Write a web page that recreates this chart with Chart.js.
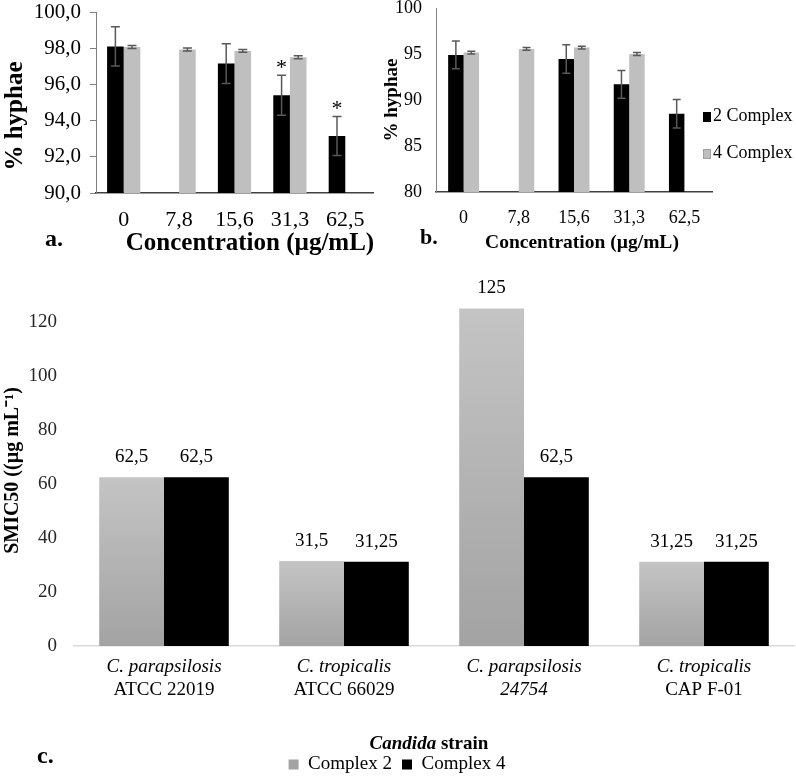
<!DOCTYPE html>
<html>
<head>
<meta charset="utf-8">
<script src="https://cdn.jsdelivr.net/npm/chart.js@4.4.1/dist/chart.umd.min.js"></script>
<style>
  html, body { margin: 0; padding: 0; background: #fff; overflow: hidden; }
  body { width: 796px; height: 778px; position: relative; font-family: "Liberation Serif", "Times New Roman", serif; color: #000; }
  .panel { position: absolute; }
  .txt { position: absolute; white-space: nowrap; line-height: 1; }
  .b { font-weight: bold; }
  .sw { display: inline-block; width: 8px; height: 10px; margin-right: 2px; vertical-align: -1px; }
</style>
</head>
<body>
<div class="panel" style="left:0;top:0;width:400px;height:235px"><canvas id="chartA"></canvas></div>
<div class="panel" style="left:380px;top:0;width:416px;height:232px"><canvas id="chartB"></canvas></div>
<div class="panel" style="left:0;top:270px;width:796px;height:514px"><canvas id="chartC"></canvas></div>

<div class="txt b" style="left:12.5px;top:116px;font-size:25px;transform:translate(-50%,-50%) rotate(-90deg)">% hyphae</div>
<div class="txt b" style="left:45px;top:226px;font-size:24px">a.</div>
<div class="txt b" style="left:250px;top:229px;font-size:25px;transform:translateX(-50%)">Concentration (µg/mL)</div>
<div class="txt b" style="left:420px;top:226px;font-size:22px">b.</div>
<div class="txt b" style="left:582px;top:232px;font-size:19.5px;transform:translateX(-50%)">Concentration (µg/mL)</div>
<div class="txt" style="left:703px;top:106px;font-size:18px"><span class="sw" style="background:#000"></span>2 Complex</div>
<div class="txt" style="left:703px;top:143px;font-size:18px"><span class="sw" style="background:#bfbfbf;border:1px solid #a0a0a0;width:6px;height:8px"></span>4 Complex</div>
<div class="txt b" style="left:37px;top:743px;font-size:24px">c.</div>
<div class="txt b" style="left:429px;top:733px;font-size:19px;transform:translateX(-50%)"><i>Candida</i> strain</div>

<script>
// panel a / b: % hyphae by concentration
const concentrations = ['0', '7,8', '15,6', '31,3', '62,5'];

const hyphaeA2 = [98.1, null, 97.15, 95.4, 93.15];
const errA2 = [1.08, null, 1.1, 1.1, 1.08];
const starA2 = [false, false, false, true, true];
const hyphaeA4 = [98.07, 97.93, 97.85, 97.5, null];
const errA4 = [0.08, 0.08, 0.08, 0.08, null];

const hyphaeB2 = [94.9, null, 94.45, 91.7, 88.5];
const errB2 = [1.5, null, 1.55, 1.5, 1.55];
const hyphaeB4 = [95.15, 95.55, 95.7, 95.0, null];
const errB4 = [0.15, 0.15, 0.15, 0.15, null];

// panel c: SMIC50 by strain
const strains = [
  ['C. parapsilosis', 'ATCC 22019'],
  ['C. tropicalis', 'ATCC 66029'],
  ['C. parapsilosis', '24754'],
  ['C. tropicalis', 'CAP F-01']
];
const italicSecondLine = [false, false, true, false];
const smicComplex2 = [62.5, 31.5, 125, 31.25];
const smicComplex4 = [62.5, 31.25, 62.5, 31.25];

const FONT = '"Liberation Serif", "Times New Roman", serif';
Chart.defaults.font.family = FONT;
Chart.defaults.color = '#000';

const comma = v => String(v).replace('.', ',');

const errorBars = {
  id: 'errorBars',
  afterDatasetsDraw(chart, args, opts) {
    const { ctx } = chart;
    const y = chart.scales.y;
    ctx.save();
    chart.data.datasets.forEach((ds, i) => {
      chart.getDatasetMeta(i).data.forEach((bar, j) => {
        const v = ds.data[j];
        const e = ds.errors ? ds.errors[j] : null;
        if (v == null || e == null) return;
        const top = y.getPixelForValue(v + e);
        const bot = y.getPixelForValue(v - e);
        const half = opts.cap / 2;
        ctx.strokeStyle = opts.color;
        ctx.lineWidth = opts.width;
        ctx.beginPath();
        ctx.moveTo(bar.x, top); ctx.lineTo(bar.x, bot);
        ctx.moveTo(bar.x - half, top); ctx.lineTo(bar.x + half, top);
        ctx.moveTo(bar.x - half, bot); ctx.lineTo(bar.x + half, bot);
        ctx.stroke();
        if (ds.stars && ds.stars[j]) {
          ctx.fillStyle = '#000';
          ctx.font = opts.starSize + 'px ' + FONT;
          ctx.textAlign = 'center';
          ctx.textBaseline = 'alphabetic';
          ctx.fillText('*', bar.x, top - 1);
        }
      });
    });
    ctx.restore();
  }
};

const barValues = {
  id: 'barValues',
  afterDatasetsDraw(chart, args, opts) {
    const { ctx } = chart;
    ctx.save();
    ctx.font = opts.size + 'px ' + FONT;
    ctx.fillStyle = opts.color;
    ctx.textAlign = 'center';
    ctx.textBaseline = 'middle';
    chart.data.datasets.forEach((ds, i) => {
      chart.getDatasetMeta(i).data.forEach((bar, j) => {
        ctx.fillText(comma(ds.data[j]), bar.x, bar.y - opts.offset);
      });
    });
    ctx.restore();
  }
};

const strainLabels = {
  id: 'strainLabels',
  afterDraw(chart, args, opts) {
    const { ctx, chartArea } = chart;
    const x = chart.scales.x;
    ctx.save();
    ctx.fillStyle = opts.color;
    ctx.textAlign = 'center';
    ctx.textBaseline = 'middle';
    chart.data.labels.forEach((lines, i) => {
      const cx = x.getPixelForValue(i);
      lines.forEach((line, k) => {
        const italic = k === 0 || italicSecondLine[i];
        ctx.font = (italic ? 'italic ' : '') + opts.size + 'px ' + FONT;
        ctx.fillText(line, cx, chartArea.bottom + opts.first + k * opts.gap);
      });
    });
    ctx.restore();
  }
};

function fixWidth(w) {
  return s => { s.width = w; s.paddingTop = 0; s.paddingBottom = 0; };
}
function fixHeight(h) {
  return s => { s.height = h; s.paddingLeft = 0; s.paddingRight = 0; };
}

// a.
new Chart(document.getElementById('chartA'), {
  type: 'bar',
  data: {
    labels: concentrations,
    datasets: [
      { label: '2 Complex', data: hyphaeA2, errors: errA2, stars: starA2, backgroundColor: '#000' },
      { label: '4 Complex', data: hyphaeA4, errors: errA4, backgroundColor: '#bfbfbf' }
    ]
  },
  options: {
    responsive: true,
    maintainAspectRatio: false,
    animation: false,
    layout: { padding: { top: 12, right: 27, left: 0, bottom: 0 } },
    datasets: { bar: { categoryPercentage: 0.6, barPercentage: 1 } },
    plugins: {
      legend: { display: false },
      tooltip: { enabled: false },
      errorBars: { cap: 9, color: '#595959', width: 1.5, starSize: 22 }
    },
    scales: {
      x: {
        grid: { display: false, drawTicks: false },
        border: { color: '#404040', width: 1.5 },
        ticks: { font: { size: 22 }, padding: 14, color: '#000' },
        afterFit: fixHeight(42)
      },
      y: {
        min: 90, max: 100,
        ticks: { stepSize: 2, font: { size: 21 }, padding: 9, color: '#000', callback: v => v.toFixed(1).replace('.', ',') },
        grid: { drawOnChartArea: false, tickLength: 6, color: '#7f7f7f' },
        border: { color: '#7f7f7f' },
        afterFit: fixWidth(96)
      }
    }
  },
  plugins: [errorBars]
});

// b.
new Chart(document.getElementById('chartB'), {
  type: 'bar',
  data: {
    labels: concentrations,
    datasets: [
      { label: '2 Complex', data: hyphaeB2, errors: errB2, backgroundColor: '#000' },
      { label: '4 Complex', data: hyphaeB4, errors: errB4, backgroundColor: '#bfbfbf' }
    ]
  },
  options: {
    responsive: true,
    maintainAspectRatio: false,
    animation: false,
    layout: { padding: { top: 8, right: 84, left: 0, bottom: 0 } },
    datasets: { bar: { categoryPercentage: 0.56, barPercentage: 1 } },
    plugins: {
      legend: { display: false },
      tooltip: { enabled: false },
      errorBars: { cap: 8, color: '#595959', width: 1.5, starSize: 20 }
    },
    scales: {
      x: {
        grid: { display: false, drawTicks: false },
        border: { color: '#404040', width: 1.5 },
        ticks: { font: { size: 18 }, padding: 15, color: '#000' },
        afterFit: fixHeight(40)
      },
      y: {
        min: 80, max: 100,
        ticks: { stepSize: 5, font: { size: 18 }, padding: 14, color: '#000' },
        grid: { display: false, drawTicks: false },
        border: { color: '#868686' },
        title: { display: true, text: '% hyphae', font: { size: 19, weight: 'bold', lineHeight: 1 }, padding: { top: 2.5, bottom: 0 } },
        afterFit: fixWidth(56)
      }
    }
  },
  plugins: [errorBars]
});

// c.
function grayFill(context) {
  const chart = context.chart;
  if (!chart.chartArea || context.type !== 'data') return '#b3b3b3';
  const y = chart.scales.y;
  const top = y.getPixelForValue(context.raw);
  const bottom = y.getPixelForValue(0);
  const g = chart.ctx.createLinearGradient(0, top, 0, bottom);
  g.addColorStop(0, '#c4c4c4');
  g.addColorStop(1, '#a3a3a3');
  return g;
}

new Chart(document.getElementById('chartC'), {
  type: 'bar',
  data: {
    labels: strains,
    datasets: [
      { label: 'Complex 2', data: smicComplex2, backgroundColor: grayFill },
      { label: 'Complex 4', data: smicComplex4, backgroundColor: '#000' }
    ]
  },
  options: {
    responsive: true,
    maintainAspectRatio: false,
    animation: false,
    layout: { padding: { top: 25, right: 2, left: 0, bottom: 0 } },
    datasets: { bar: { categoryPercentage: 0.72, barPercentage: 1 } },
    plugins: {
      legend: {
        position: 'bottom',
        labels: { boxWidth: 10, boxHeight: 10, padding: 10, font: { size: 19 }, color: '#000' }
      },
      tooltip: { enabled: false },
      barValues: { size: 19, color: '#000', offset: 20 },
      strainLabels: { size: 19, color: '#000', first: 21, gap: 23 }
    },
    scales: {
      x: {
        grid: { display: false, drawTicks: false },
        border: { color: '#d9d9d9', width: 1.5 },
        ticks: { display: false },
        afterFit: fixHeight(99)
      },
      y: {
        min: 0, max: 130,
        ticks: { stepSize: 20, includeBounds: false, font: { size: 19 }, padding: 17, color: '#262626' },
        grid: { display: false, drawTicks: false },
        border: { display: false },
        title: { display: true, text: 'SMIC50 ((µg mL⁻¹)', font: { size: 20, weight: 'bold', lineHeight: 1 }, padding: { top: 3, bottom: 0 } },
        afterFit: fixWidth(74)
      }
    }
  },
  plugins: [barValues, strainLabels]
});
</script>
</body>
</html>
